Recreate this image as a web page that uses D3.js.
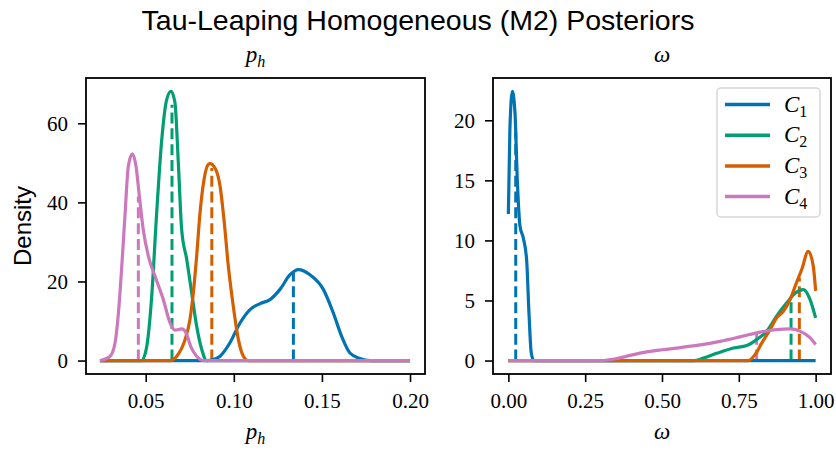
<!DOCTYPE html>
<html>
<head>
<meta charset="utf-8">
<script src="https://cdn.jsdelivr.net/npm/d3@7"></script>
<style>
  body { margin: 0; background: #fff; }
  svg { display: block; }
  .tick text { font-family: "Liberation Serif", serif; font-size: 21px; fill: #000; }
  .tick line { stroke: #000; stroke-width: 1.6; }
</style>
</head>
<body>
<svg id="chart" width="836" height="452"></svg>
<script>
// series C1..C4, seaborn colorblind palette
const seriesSubs = ["1", "2", "3", "4"];
const seriesColors = ["#0173b2", "#029e73", "#d55e00", "#cc78bc"];

// p_h panel: KDE curves, [x, density]
const phC1 = [[0.024, 0], [0.0846, 0], [0.088, 0.2], [0.0922, 1.1], [0.0978, 4.5], [0.1035, 9.5], [0.1092, 12.9], [0.1149, 14.4],
  [0.1205, 15.4], [0.1262, 18], [0.1319, 21.7], [0.1366, 23], [0.1432, 21.7], [0.1508, 18], [0.1565, 12],
  [0.1612, 6.1], [0.1659, 1.9], [0.1716, 0.5], [0.1773, 0], [0.2, 0]];
const phC2 = [[0.024, 0], [0.0477, 0], [0.0506, 3.6], [0.0534, 16.3], [0.0562, 37.3], [0.0591, 55.9], [0.0619, 66],
  [0.0644, 68.1], [0.0666, 65.2], [0.0685, 50], [0.0704, 33.1], [0.0733, 25.5], [0.0761, 17.1], [0.0789, 8.7],
  [0.0818, 2.8], [0.0846, 0], [0.2, 0]];
const phC3 = [[0.024, 0], [0.0638, 0], [0.0676, 1.1], [0.0723, 5.3], [0.0751, 10.4], [0.077, 17.1], [0.0789, 26.4],
  [0.0808, 37.3], [0.0831, 45.8], [0.0855, 49.6], [0.0865, 49.8], [0.0893, 48.7], [0.0922, 44.1], [0.0944, 35.7],
  [0.0969, 23.8], [0.0997, 13.7], [0.1026, 5.3], [0.1054, 1.1], [0.1082, 0], [0.2, 0]];
const phC4 = [[0.0241, 0], [0.0298, 1.1], [0.0326, 4.5], [0.0345, 12], [0.0364, 23.8], [0.0383, 37.3], [0.0401, 49.1],
  [0.0424, 52.3], [0.0445, 49.1], [0.0464, 41.5], [0.0486, 33.1], [0.0515, 26.4], [0.0553, 21.3], [0.06, 15.4],
  [0.0638, 9.5], [0.0666, 7.7], [0.0704, 8.0], [0.0729, 7.0], [0.0755, 3.6], [0.0789, 1.1], [0.0827, 0], [0.2, 0]];
const phMeans = [0.1338, 0.0649, 0.0875, 0.0458];
const phMeanDensity = [22.2, 64.7, 48.7, 41.5];

// omega panel
const omC1 = [[0, 12.2], [0.005, 19.25], [0.013, 22.4], [0.0216, 20.6], [0.029, 15.1], [0.0378, 11.2], [0.0486, 10.2],
  [0.0594, 8.4], [0.067, 4], [0.0746, 0.6], [0.083, 0], [1, 0]];
const omC2 = [[0, 0], [0.603, 0], [0.635, 0.2], [0.678, 0.6], [0.7325, 1.05], [0.776, 1.25], [0.808, 1.75], [0.841, 2.45],
  [0.873, 3.7], [0.906, 4.8], [0.933, 5.6], [0.96, 5.9], [0.98, 5.2], [1.0, 3.55]];
const omC3 = [[0, 0], [0.781, 0], [0.803, 0.5], [0.825, 1.47], [0.852, 2.58], [0.873, 3.56], [0.895, 4.1], [0.917, 5.1],
  [0.938, 6.5], [0.955, 7.6], [0.976, 9.1], [0.992, 7.9], [1.0, 5.8]];
const omC4 = [[0, 0], [0.3, 0], [0.35, 0.15], [0.4, 0.45], [0.45, 0.72], [0.5, 0.9], [0.56, 1.08], [0.6244, 1.3],
  [0.689, 1.6], [0.754, 1.97], [0.819, 2.36], [0.873, 2.58], [0.9166, 2.64], [0.949, 2.45], [0.9815, 1.9], [1, 1.33]];
const omMeans = [0.024, 0.92, 0.947, 0.808];
const omMeanDensity = [19, 5.2, 6.9, 2.35];

const phTicks = [0.05, 0.10, 0.15, 0.20];
const phDensityTicks = [0, 20, 40, 60];
const omTicks = [0, 0.25, 0.5, 0.75, 1.0];
const omDensityTicks = [0, 5, 10, 15, 20];

const svg = d3.select("#chart");
const plotTop = 78, plotBottom = 374;
const serif = "'Liberation Serif', serif";
const sans = "'Liberation Sans', Arial, sans-serif";

svg.append("text")
    .attr("x", 418).attr("y", 30)
    .attr("text-anchor", "middle")
    .attr("font-family", sans).attr("font-size", 28.5)
    .text("Tau-Leaping Homogeneous (M2) Posteriors");

// math-ish label: italic base plus optional subscript
function mathLabel(g, x, y, base, sub, size, subItalic) {
    const t = g.append("text")
        .attr("x", x).attr("y", y)
        .attr("text-anchor", "middle")
        .attr("font-family", serif).attr("font-size", size);
    t.append("tspan").attr("font-style", "italic").text(base);
    if (sub) {
        t.append("tspan")
            .attr("dy", size * 0.22)
            .attr("font-size", size * 0.7)
            .attr("font-style", subItalic ? "italic" : "normal")
            .text(sub);
    }
    return t;
}

function drawPanel(cfg) {
    const x = d3.scaleLinear().domain(cfg.xDomain).range([cfg.left, cfg.right]);
    const y = d3.scaleLinear().domain(cfg.yDomain).range([plotBottom, plotTop]);
    const g = svg.append("g");

    g.append("g")
        .attr("transform", `translate(0,${plotBottom})`)
        .call(d3.axisBottom(x).tickValues(cfg.xTicks).tickFormat(d3.format(".2f")).tickSize(8).tickPadding(11))
        .call(a => a.select(".domain").remove());
    g.append("g")
        .attr("transform", `translate(${cfg.left},0)`)
        .call(d3.axisLeft(y).tickValues(cfg.yTicks).tickFormat(d3.format("d")).tickSize(8).tickPadding(10))
        .call(a => a.select(".domain").remove());

    // mean markers sit underneath the curves
    cfg.means.forEach((m, i) => {
        g.append("line")
            .attr("x1", x(m)).attr("x2", x(m))
            .attr("y1", y(0)).attr("y2", y(cfg.meanDensity[i]))
            .attr("stroke", seriesColors[i])
            .attr("stroke-width", 3)
            .attr("stroke-dasharray", "11,4.8");
    });

    const line = d3.line()
        .x(d => x(d[0]))
        .y(d => y(d[1]))
        .curve(d3.curveMonotoneX);
    cfg.curves.forEach((c, i) => {
        g.append("path")
            .attr("d", line(c))
            .attr("fill", "none")
            .attr("stroke", seriesColors[i])
            .attr("stroke-width", 3.2)
            .attr("stroke-linejoin", "round");
    });

    g.append("rect")
        .attr("x", cfg.left).attr("y", plotTop)
        .attr("width", cfg.right - cfg.left).attr("height", plotBottom - plotTop)
        .attr("fill", "none").attr("stroke", "#000").attr("stroke-width", 1.8);

    const cx = (cfg.left + cfg.right) / 2;
    mathLabel(g, cx, 62, cfg.symbol, cfg.sub, 23, true);
    mathLabel(g, cx, 439, cfg.symbol, cfg.sub, 23, true);
    return {x, y, g};
}

drawPanel({
    left: 86, right: 425,
    xDomain: [0.0161, 0.2085], yDomain: [-3.4, 71.45],
    xTicks: phTicks, yTicks: phDensityTicks,
    curves: [phC1, phC2, phC3, phC4],
    means: phMeans, meanDensity: phMeanDensity,
    symbol: "p", sub: "h"
});

drawPanel({
    left: 493, right: 831,
    xDomain: [-0.05, 1.05], yDomain: [-1.12, 23.52],
    xTicks: omTicks, yTicks: omDensityTicks,
    curves: [omC1, omC2, omC3, omC4],
    means: omMeans, meanDensity: omMeanDensity,
    symbol: "ω", sub: null
});

svg.append("text")
    .attr("transform", "translate(31,226) rotate(-90)")
    .attr("text-anchor", "middle")
    .attr("font-family", sans).attr("font-size", 24)
    .text("Density");

// legend
const legend = svg.append("g").attr("transform", "translate(717,88)");
legend.append("rect")
    .attr("width", 103).attr("height", 129).attr("rx", 4)
    .attr("fill", "#fff").attr("fill-opacity", 0.8)
    .attr("stroke", "#d6d6d6").attr("stroke-width", 1.5);
seriesSubs.forEach((s, i) => {
    const ly = 16.5 + i * 30.7;
    legend.append("line")
        .attr("x1", 8).attr("x2", 53).attr("y1", ly).attr("y2", ly)
        .attr("stroke", seriesColors[i]).attr("stroke-width", 3.5);
    const t = legend.append("text")
        .attr("x", 67).attr("y", ly + 7)
        .attr("font-family", serif).attr("font-size", 23);
    t.append("tspan").attr("font-style", "italic").text("C");
    t.append("tspan").attr("dy", 5).attr("font-size", 16).text(s);
});
</script>
</body>
</html>
